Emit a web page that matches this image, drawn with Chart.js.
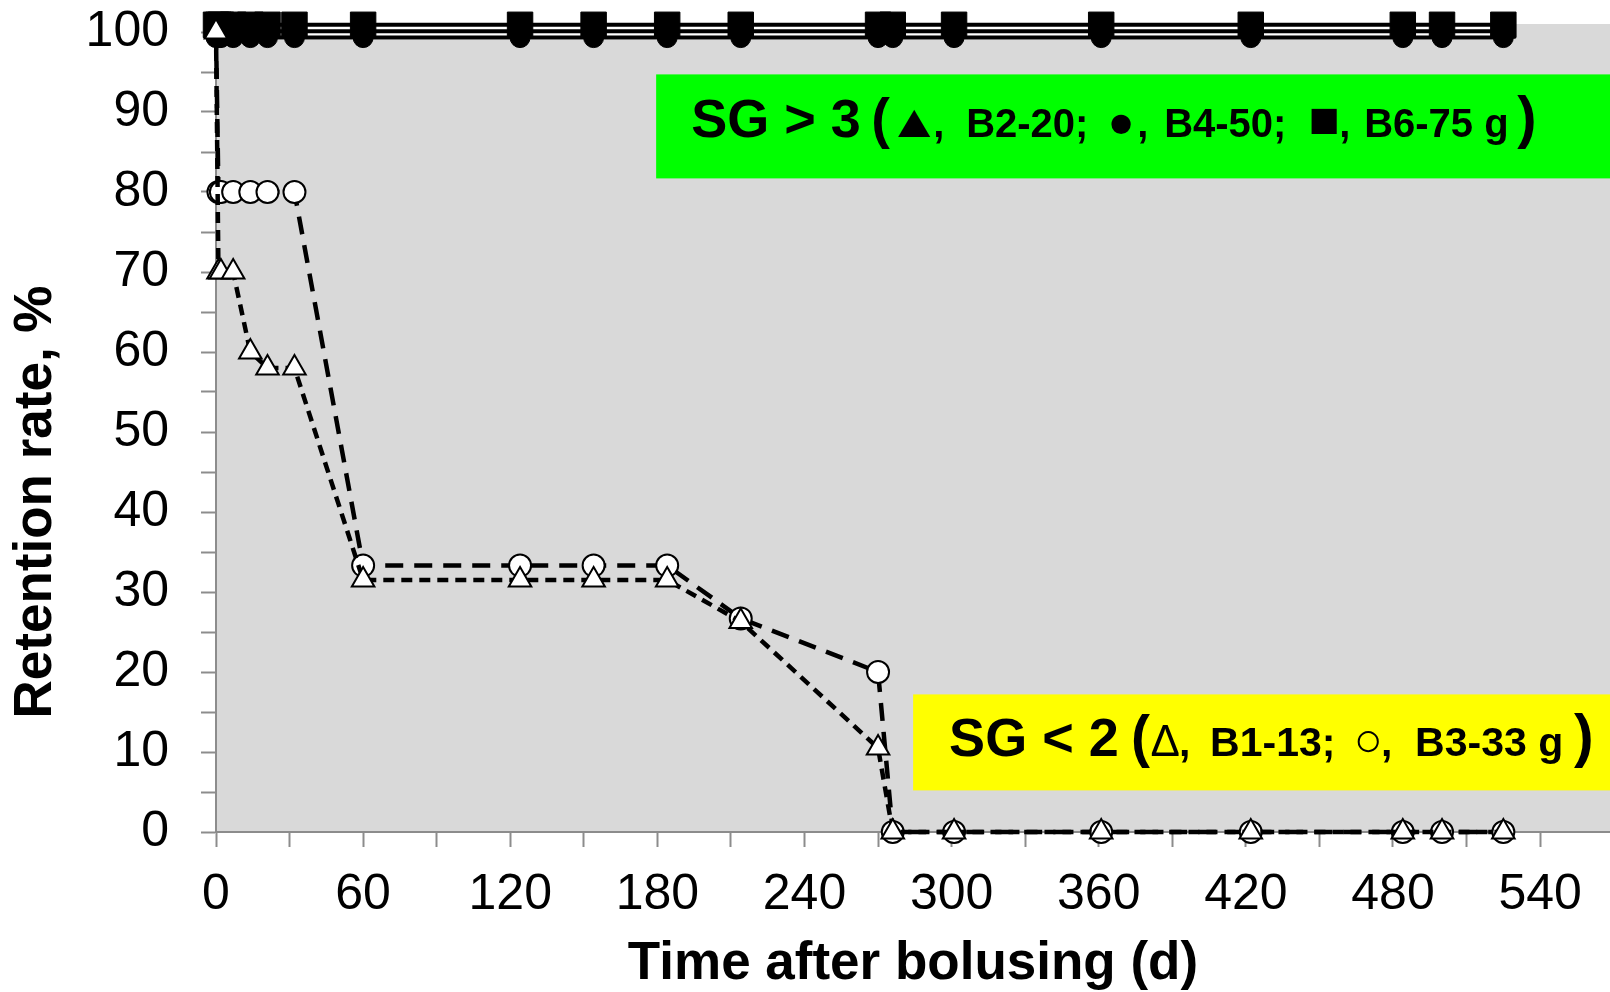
<!DOCTYPE html>
<html>
<head>
<meta charset="utf-8">
<script src="https://cdn.jsdelivr.net/npm/chart.js@4.4.1/dist/chart.umd.min.js"></script>
<style>
  html, body { margin: 0; padding: 0; background: #fff; }
  #wrap { width: 1610px; height: 992px; }
</style>
</head>
<body>
<div id="wrap"><canvas id="grafikRetensi" width="1610" height="992"></canvas></div>
<script>
// hari setelah pemberian bolus
const days = [0, 1, 2, 7, 14, 21, 32, 60, 124, 154, 184, 214, 270, 276, 301, 361, 422, 484, 500, 525];

// SG < 2
const b1_13 = [100, 70, 70, 70, 60, 58, 58, 31.5, 31.5, 31.5, 31.5, 26.3, 10.5, 0, 0, 0, 0, 0, 0, 0];
const b3_33 = [100, 80, 80, 80, 80, 80, 80, 33.3, 33.3, 33.3, 33.3, 26.7, 20, 0, 0, 0, 0, 0, 0, 0];

// SG > 3 (tiga garis sedikit bergeser di sekitar 100)
const b2_20 = [100.1, 100.1, 100.1, 100.1, 100.1, 100.1, 100.1, 100.1, 100.1, 100.1, 100.1, 100.1, 100.1, 100.1, 100.1, 100.1, 100.1, 100.1, 100.1, 100.1];
const b4_50 = [99.3, 99.3, 99.3, 99.3, 99.3, 99.3, 99.3, 99.3, 99.3, 99.3, 99.3, 99.3, 99.3, 99.3, 99.3, 99.3, 99.3, 99.3, 99.3, 99.3];
const b6_75 = [100.9, 100.9, 100.9, 100.9, 100.9, 100.9, 100.9, 100.9, 100.9, 100.9, 100.9, 100.9, 100.9, 100.9, 100.9, 100.9, 100.9, 100.9, 100.9, 100.9];

const xTicks = [0, 30, 60, 90, 120, 150, 180, 210, 240, 270, 300, 330, 360, 390, 420, 450, 480, 510, 540];
const yTicks = [0, 5, 10, 15, 20, 25, 30, 35, 40, 45, 50, 55, 60, 65, 70, 75, 80, 85, 90, 95, 100];

const xTitle = 'Time after bolusing (d)';
const yTitle = 'Retention rate, %';

const FAM = '"Liberation Sans", Arial, sans-serif';
const big = 'bold 54px ' + FAM;
const small = 'bold 40px ' + FAM;
const small2 = 'bold 41px ' + FAM;

// kotak keterangan (batas dalam satuan sumbu, teks digeser dari tepi kiri kotak)
const noteHigh = {
  bg: '#00ff00', x0: 179.5, y0: 81.7, y1: 94.7, baseY: 63,
  runs: [
    { t: 'SG > 3', font: big, dx: 35 },
    { t: '(', font: 'bold 56px ' + FAM, dx: 215 },
    { t: '\u25B2', font: '55px ' + FAM, dx: 258, mid: true, sy: 0.85 },
    { t: ',', font: small, dx: 277 },
    { t: 'B2-20;', font: small, dx: 310 },
    { t: '\u25CF', font: '45px ' + FAM, dx: 465, mid: true },
    { t: ',', font: small, dx: 481 },
    { t: 'B4-50;', font: small, dx: 508 },
    { t: '\u25A0', font: '52px ' + FAM, dx: 668, mid: true },
    { t: ',', font: small, dx: 683 },
    { t: 'B6-75 g', font: small, dx: 708 },
    { t: ')', font: 'bold 58px ' + FAM, dx: 861 }
  ]
};
const noteLow = {
  bg: '#ffff00', x0: 284.3, y0: 5.2, y1: 17.2, baseY: 62,
  runs: [
    { t: 'SG < 2', font: big, dx: 36 },
    { t: '(', font: 'bold 57px ' + FAM, dx: 218 },
    { t: '\u0394', font: '44px ' + FAM, dx: 252, mid: true },
    { t: ',', font: small2, dx: 266 },
    { t: 'B1-13;', font: small2, dx: 297 },
    { t: '\u25CB', font: '48px ' + FAM, dx: 455, mid: true },
    { t: ',', font: small2, dx: 468 },
    { t: 'B3-33 g', font: small2, dx: 502 },
    { t: ')', font: 'bold 59px ' + FAM, dx: 661 }
  ]
};

function pts(vals) {
  return days.map((d, i) => ({ x: d, y: vals[i] }));
}

function drawNote(chart, note) {
  const ctx = chart.ctx;
  const xs = chart.scales.x, ys = chart.scales.y;
  const left = xs.getPixelForValue(note.x0);
  const right = chart.chartArea.right;
  const top = ys.getPixelForValue(note.y1);
  const bottom = ys.getPixelForValue(note.y0);
  ctx.save();
  ctx.fillStyle = note.bg;
  ctx.fillRect(left, top, right - left, bottom - top);
  ctx.fillStyle = '#000';
  ctx.textBaseline = 'alphabetic';
  note.runs.forEach(r => {
    ctx.save();
    ctx.font = r.font;
    ctx.textAlign = r.mid ? 'center' : 'left';
    ctx.translate(left + r.dx, top + note.baseY);
    if (r.sy) ctx.scale(1, r.sy);
    ctx.fillText(r.t, 0, 0);
    ctx.restore();
  });
  ctx.restore();
}

// latar abu-abu, kotak keterangan, lapisan putih di bawah garis SG > 3, judul sumbu y
const latarDanCatatan = {
  id: 'latarDanCatatan',
  beforeDraw(chart) {
    const { ctx, chartArea: a } = chart;
    ctx.save();
    ctx.fillStyle = '#fff';
    ctx.fillRect(0, 0, chart.width, chart.height);
    ctx.fillStyle = '#d9d9d9';
    ctx.fillRect(a.left, a.top, a.right - a.left, a.bottom - a.top);
    ctx.restore();
  },
  beforeDatasetsDraw(chart) {
    drawNote(chart, noteHigh);
    drawNote(chart, noteLow);
    const idx = chart.data.datasets.findIndex(d => d.label === 'B2-20 g');
    const meta = chart.getDatasetMeta(idx);
    const ctx = chart.ctx;
    ctx.save();
    ctx.strokeStyle = '#fff';
    ctx.lineWidth = 17;
    ctx.beginPath();
    meta.data.forEach((p, i) => { if (i === 0) ctx.moveTo(p.x, p.y); else ctx.lineTo(p.x, p.y); });
    ctx.stroke();
    ctx.restore();
  },
  afterDraw(chart) {
    const ctx = chart.ctx;
    ctx.save();
    ctx.translate(51, 502);
    ctx.rotate(-Math.PI / 2);
    ctx.font = 'bold 53px ' + FAM;
    ctx.fillStyle = '#000';
    ctx.textAlign = 'center';
    ctx.textBaseline = 'alphabetic';
    ctx.fillText(yTitle, 0, 0);
    ctx.restore();
  }
};

function noPad(s) {
  s.paddingLeft = 0;
  s.paddingRight = 0;
  s.paddingTop = 0;
  s.paddingBottom = 0;
}

Chart.defaults.font.family = FAM;
Chart.defaults.color = '#000';

// urutan: dataset pertama digambar paling atas
const ctx = document.getElementById('grafikRetensi').getContext('2d');
const myChart = new Chart(ctx, {
  type: 'line',
  data: {
    datasets: [
      {
        label: 'B1-13 g',
        data: pts(b1_13),
        borderColor: '#000',
        borderWidth: 4.5,
        borderDash: [11, 7],
        pointStyle: 'triangle',
        pointRadius: 13,
        pointBorderWidth: 2,
        pointBackgroundColor: '#fff',
        pointBorderColor: '#000',
        clip: false
      },
      {
        label: 'B2-20 g',
        data: pts(b2_20),
        borderColor: '#000',
        borderWidth: 4,
        pointStyle: 'triangle',
        pointRadius: 14,
        pointBorderWidth: 1,
        pointBackgroundColor: '#000',
        pointBorderColor: '#000',
        clip: false
      },
      {
        label: 'B6-75 g',
        data: pts(b6_75),
        borderColor: '#000',
        borderWidth: 4,
        pointStyle: 'rect',
        pointRadius: 18,
        pointBorderWidth: 1,
        pointBackgroundColor: '#000',
        pointBorderColor: '#000',
        clip: false
      },
      {
        label: 'B4-50 g',
        data: pts(b4_50),
        borderColor: '#000',
        borderWidth: 4,
        pointStyle: 'circle',
        pointRadius: 10,
        pointBorderWidth: 1,
        pointBackgroundColor: '#000',
        pointBorderColor: '#000',
        clip: false
      },
      {
        label: 'B3-33 g',
        data: pts(b3_33),
        borderColor: '#000',
        borderWidth: 4.5,
        borderDash: [18, 11],
        pointStyle: 'circle',
        pointRadius: 11,
        pointBorderWidth: 2,
        pointBackgroundColor: '#fff',
        pointBorderColor: '#000',
        clip: false
      }
    ]
  },
  options: {
    responsive: false,
    devicePixelRatio: 1,
    animation: false,
    layout: { autoPadding: false, padding: { top: 24, right: 0, bottom: 0, left: 0 } },
    plugins: {
      legend: { display: false },
      tooltip: { enabled: false }
    },
    scales: {
      x: {
        type: 'linear',
        min: 0,
        max: 568.5,
        afterBuildTicks: s => { s.ticks = xTicks.map(v => ({ value: v })); },
        afterFit: s => { s.height = 160; noPad(s); },
        grid: { drawOnChartArea: false, tickLength: 15, tickColor: '#8c8c8c', tickWidth: 2 },
        border: { color: '#8c8c8c', width: 2 },
        ticks: {
          autoSkip: false,
          maxRotation: 0,
          padding: 18,
          font: { size: 50 },
          callback: v => (v % 60 === 0 ? v : '')
        },
        title: {
          display: true,
          text: xTitle,
          font: { size: 53, weight: 'bold', lineHeight: 1.05 },
          padding: 0
        }
      },
      y: {
        type: 'linear',
        min: 0,
        max: 101,
        afterBuildTicks: s => { s.ticks = yTicks.map(v => ({ value: v })); },
        afterFit: s => { s.width = 216; noPad(s); },
        grid: { drawOnChartArea: false, tickLength: 15, tickColor: '#8c8c8c', tickWidth: 2 },
        border: { color: '#8c8c8c', width: 2 },
        ticks: {
          autoSkip: false,
          padding: 32,
          font: { size: 50 },
          callback: v => (v % 10 === 0 ? v : '')
        }
      }
    }
  },
  plugins: [latarDanCatatan]
});
</script>
</body>
</html>
